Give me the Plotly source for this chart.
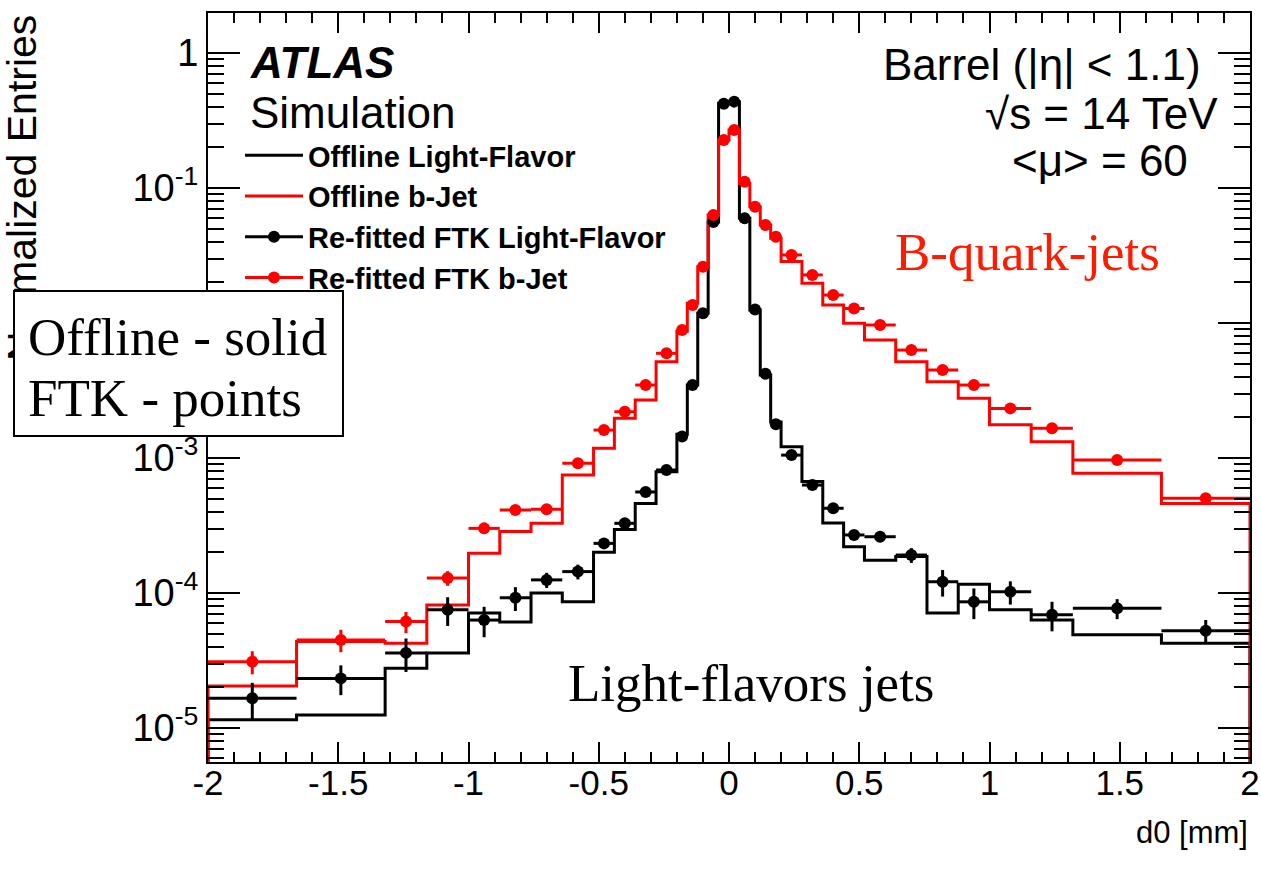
import numpy as np
import plotly.graph_objects as go

# ---------------- data ----------------
bin_edges = [-2.0, -1.66, -1.32, -1.16, -1.0, -0.88, -0.76, -0.64, -0.52, -0.44, -0.36, -0.28,
             -0.2, -0.16, -0.12, -0.08, -0.04, 0.0, 0.04, 0.08, 0.12, 0.16, 0.2, 0.28, 0.36,
             0.44, 0.52, 0.64, 0.76, 0.88, 1.0, 1.16, 1.32, 1.66, 2.0]

offline_light = [1.15e-5, 1.25e-5, 2.77e-5, 3.6e-5, 7.1e-5, 6.1e-5, 1.0e-4, 8.6e-5, 2.0e-4, 2.95e-4,
                 4.6e-4, 7.9e-4, 1.5e-3, 3.47e-3, 1.18e-2, 5.6e-2, 0.424, 0.436, 5.96e-2, 1.25e-2,
                 4.12e-3, 1.85e-3, 1.21e-3, 6.7e-4, 3.3e-4, 2.2e-4, 1.75e-4, 1.86e-4, 7.1e-5,
                 1.16e-4, 7.5e-5, 6.3e-5, 4.9e-5, 4.25e-5]

offline_b = [2.05e-5, 4.37e-5, 4.24e-5, 8.15e-5, 1.97e-4, 2.85e-4, 3.28e-4, 7.48e-4, 1.18e-3, 1.97e-3,
             2.69e-3, 5.17e-3, 8.7e-3, 0.014, 0.0261, 0.063, 0.227, 0.269, 0.108, 0.0727, 0.0532,
             0.0424, 0.0285, 0.0197, 0.0136, 9.95e-3, 7.48e-3, 5.17e-3, 3.67e-3, 2.77e-3, 1.76e-3,
             1.32e-3, 7.7e-4, 4.6e-4]

ftk_light = [1.66e-5, 2.33e-5, 3.6e-5, 7.5e-5, 6.3e-5, 9.2e-5, 1.25e-4, 1.44e-4, 2.33e-4, 3.28e-4,
             5.6e-4, 8.15e-4, 1.44e-3, 3.47e-3, 1.18e-2, 5.6e-2, 0.42, 0.436, 5.96e-2, 1.26e-2,
             4.2e-3, 1.78e-3, 1.05e-3, 6.3e-4, 4.24e-4, 2.69e-4, 2.61e-4, 1.91e-4, 1.21e-4,
             8.6e-5, 1.02e-4, 6.9e-5, 7.7e-5, 5.26e-5]
ftk_light_err = [5e-6, 5.8e-6, 1.0e-5, 1.8e-5, 1.6e-5, 1.85e-5, 1.6e-5, 1.8e-5, 2.1e-5, 2.3e-5,
                 2.2e-5, 2.5e-5, 3.5e-5, 5e-5, 1e-4, 3e-4, 1.5e-3, 1.5e-3, 3e-4, 1e-4, 5e-5,
                 3.5e-5, 4e-5, 3e-5, 2.5e-5, 2.2e-5, 1.8e-5, 2.4e-5, 2.7e-5, 2.2e-5, 2e-5,
                 1.7e-5, 1.3e-5, 1.05e-5]

ftk_b = [3.1e-5, 4.49e-5, 6.14e-5, 1.29e-4, 3.01e-4, 4.12e-4, 4.17e-4, 9.14e-4, 1.61e-3, 2.2e-3,
         3.47e-3, 5.96e-3, 8.87e-3, 0.0136, 0.0261, 0.063, 0.227, 0.269, 0.111, 0.0727, 0.0532,
         0.0436, 0.0319, 0.0227, 0.0161, 0.0128, 9.66e-3, 6.3e-3, 4.49e-3, 3.47e-3, 2.33e-3,
         1.66e-3, 9.66e-4, 5.03e-4]
ftk_b_err = [6e-6, 8.5e-6, 1.1e-5, 1.6e-5, 2.5e-5, 3e-5, 3e-5, 4.5e-5, 6e-5, 7e-5, 1e-4, 1.3e-4,
             2e-4, 2.5e-4, 4e-4, 8e-4, 2e-3, 2e-3, 1.2e-3, 9e-4, 7e-4, 6e-4, 4e-4, 3e-4, 2.5e-4,
             2.2e-4, 1.6e-4, 1.3e-4, 1.1e-4, 1e-4, 7e-5, 6e-5, 4e-5, 2.5e-5]

legend_names = ["Offline Light-Flavor", "Offline b-Jet",
                "Re-fitted FTK Light-Flavor", "Re-fitted FTK b-Jet"]

x_tickvals = [-2, -1.5, -1, -0.5, 0, 0.5, 1, 1.5, 2]
x_ticktext = ["-2", "-1.5", "-1", "-0.5", "0", "0.5", "1", "1.5", "2"]
y_tickvals = [1e-5, 1e-4, 1e-3, 1e-2, 1e-1, 1]
y_ticktext = ["10<sup>-5</sup>", "10<sup>-4</sup>", "10<sup>-3</sup>", "10<sup>-2</sup>",
              "10<sup>-1</sup>", "1"]

# ---------------- helpers ----------------
edges = np.array(bin_edges)
centers = 0.5 * (edges[:-1] + edges[1:])
half_w = 0.5 * (edges[1:] - edges[:-1])
FLOOR = 1e-8  # below the visible range: draws the histogram edge drop like ROOT


def step_xy(vals):
    xs = np.concatenate([[edges[0]], edges, [edges[-1]]])
    ys = np.concatenate([[FLOOR], vals, [vals[-1]], [FLOOR]])
    return xs, ys


RED = "#ff0000"
BLACK = "#000000"
SANS = "Liberation Sans, Arial, Helvetica, sans-serif"
SERIF = "Liberation Serif, Times New Roman, serif"

fig = go.Figure()

# offline histograms
for vals, col in [(offline_light, BLACK), (offline_b, RED)]:
    xs, ys = step_xy(np.array(vals))
    fig.add_trace(go.Scatter(x=xs, y=ys, mode="lines", line=dict(color=col, width=3, shape="hv"),
                             showlegend=False, hoverinfo="skip", cliponaxis=True))

# FTK points
for vals, errs, col in [(ftk_light, ftk_light_err, BLACK), (ftk_b, ftk_b_err, RED)]:
    fig.add_trace(go.Scatter(
        x=centers, y=vals, mode="markers",
        marker=dict(color=col, size=12, symbol="circle"),
        error_x=dict(type="data", array=half_w, color=col, thickness=3, width=0),
        error_y=dict(type="data", array=errs, color=col, thickness=3, width=0),
        showlegend=False, cliponaxis=True))

# legend entries (ROOT-style samples)
legend_styles = [(BLACK, "lines"), (RED, "lines"), (BLACK, "lines+markers"), (RED, "lines+markers")]
for name, (col, mode) in zip(legend_names, legend_styles):
    fig.add_trace(go.Scatter(x=[None], y=[None], mode=mode, name="<b>" + name + "</b>",
                             line=dict(color=col, width=3),
                             marker=dict(color=col, size=12), showlegend=True))

W, H = 1261, 890
L, R, T, B = 208, 11, 13, 128
PW, PH = W - L - R, H - T - B


def px(xpix):
    return (xpix - L) / PW


def py(ypix):
    return 1 - (ypix - T) / PH


annotations = [
    dict(text="Normalized Entries", textangle=-90, x=px(22), y=1.0, xref="paper", yref="paper",
         xanchor="center", yanchor="top", showarrow=False, font=dict(family=SANS, size=41, color="black")),
    dict(text="d0 [mm]", x=1.0, y=py(832), xref="paper", yref="paper", xanchor="right",
         yanchor="middle", showarrow=False, font=dict(family=SANS, size=31, color="black")),
    dict(text="<b><i>ATLAS</i></b>", x=px(248), y=py(62), xref="paper", yref="paper",
         xanchor="left", yanchor="middle", showarrow=False, font=dict(family=SANS, size=44, color="black")),
    dict(text="Simulation", x=px(248), y=py(112), xref="paper", yref="paper",
         xanchor="left", yanchor="middle", showarrow=False, font=dict(family=SANS, size=44, color="black")),
    dict(text="Barrel (|η| &lt; 1.1)", x=px(1203), y=py(65), xref="paper", yref="paper",
         xanchor="right", yanchor="middle", showarrow=False, font=dict(family=SANS, size=44, color="black")),
    dict(text="√s = 14 TeV", x=px(1220), y=py(113), xref="paper", yref="paper",
         xanchor="right", yanchor="middle", showarrow=False, font=dict(family=SANS, size=44, color="black")),
    dict(text="&lt;μ&gt; = 60", x=px(1190), y=py(160), xref="paper", yref="paper",
         xanchor="right", yanchor="middle", showarrow=False, font=dict(family=SANS, size=44, color="black")),
    dict(text="B-quark-jets", x=px(893), y=py(252), xref="paper", yref="paper",
         xanchor="left", yanchor="middle", showarrow=False, font=dict(family=SERIF, size=53, color="#ff1a00")),
    dict(text="Light-flavors jets", x=px(566), y=py(683), xref="paper", yref="paper",
         xanchor="left", yanchor="middle", showarrow=False, font=dict(family=SERIF, size=53, color="black")),
    # framed note box
    dict(text=" ", x=px(13), y=py(290), xref="paper", yref="paper", xanchor="left", yanchor="top",
         width=327, height=143, showarrow=False, bgcolor="white", bordercolor="black",
         borderwidth=2, borderpad=0),
    dict(text="Offline - solid", x=px(26), y=py(337), xref="paper", yref="paper",
         xanchor="left", yanchor="middle", showarrow=False, font=dict(family=SERIF, size=53, color="black")),
    dict(text="FTK - points", x=px(26), y=py(398), xref="paper", yref="paper",
         xanchor="left", yanchor="middle", showarrow=False, font=dict(family=SERIF, size=53, color="black")),
]

fig.update_layout(
    width=W, height=H, autosize=False,
    margin=dict(l=L, r=R, t=T, b=B, pad=0),
    paper_bgcolor="white", plot_bgcolor="white",
    font=dict(family=SANS, color="black"),
    showlegend=True,
    legend=dict(x=px(240), y=py(130), xanchor="left", yanchor="top", bgcolor="rgba(0,0,0,0)",
                borderwidth=0, font=dict(family=SANS, size=29, color="black"),
                itemwidth=58, tracegroupgap=0, traceorder="normal"),
    annotations=annotations,
)

fig.update_xaxes(
    range=[-2, 2], tickmode="array", tickvals=x_tickvals, ticktext=x_ticktext,
    ticks="inside", ticklen=20, tickwidth=1.5, tickcolor="black",
    showline=True, linecolor="black", linewidth=2, mirror="allticks",
    showgrid=False, zeroline=False, automargin=False, ticklabelstandoff=-11,
    tickfont=dict(family=SANS, size=35, color="black"),
    minor=dict(dtick=0.1, tick0=-2, ticks="inside", ticklen=10, tickwidth=1.5, tickcolor="black", showgrid=False),
)
fig.update_yaxes(
    type="log", range=[-5.252, 0.296], tickmode="array", tickvals=y_tickvals, ticktext=y_ticktext,
    ticks="inside", ticklen=32, tickwidth=1.5, tickcolor="black",
    showline=True, linecolor="black", linewidth=2, mirror="allticks",
    showgrid=False, zeroline=False, automargin=False,
    tickfont=dict(family=SANS, size=38, color="black"),
    minor=dict(tickmode="array", tickvals=[k * 10.0 ** d for d in range(-6, 1) for k in range(2, 10)],
               ticks="inside", ticklen=16, tickwidth=1.5, tickcolor="black", showgrid=False),
)

fig.write_html("out.html")
